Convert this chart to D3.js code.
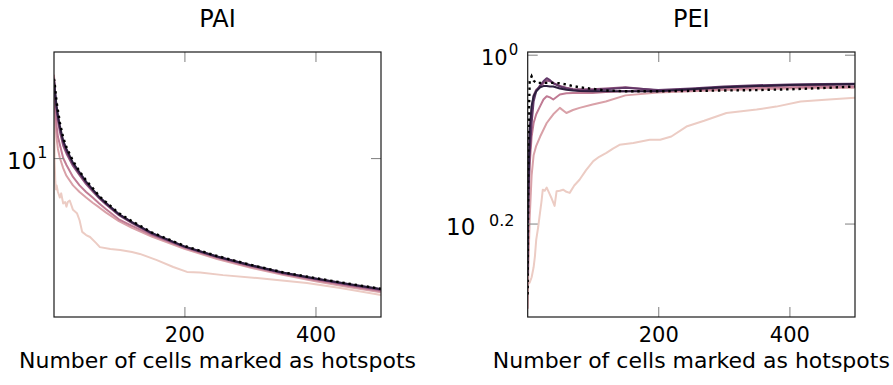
<!DOCTYPE html>
<html>
<head>
<meta charset="utf-8">
<script src="https://cdn.jsdelivr.net/npm/d3@7"></script>
<style>
  body { margin: 0; background: #fff; }
  svg { display: block; font-family: "DejaVu Sans", sans-serif; }
</style>
</head>
<body>
<svg id="chart" width="893" height="385"></svg>
<script>
// PAI panel: shared x grid for the darker curves
const paiN = [1, 2, 3, 5, 7, 10, 15, 20, 30, 40, 50, 60, 70, 80, 100, 120, 150, 200, 250, 300, 350, 400, 450, 500];
const paiP2 = [24, 17, 14.5, 12.3, 11, 10, 9, 8.3, 7.5, 7.0, 6.6, 6.25, 5.95, 5.65, 5.15, 4.8, 4.38, 3.85, 3.46, 3.16, 2.93, 2.74, 2.58, 2.44];
const paiP3 = [23.5, 19, 16.5, 14, 12.5, 11.5, 10, 9.3, 8.2, 7.5, 7.0, 6.6, 6.2, 5.85, 5.25, 4.9, 4.45, 3.9, 3.5, 3.2, 2.96, 2.77, 2.61, 2.47];
const paiP4 = [23, 20, 18.5, 16.3, 14.8, 13.2, 11.4, 10.5, 9.2, 8.35, 7.6, 7.05, 6.55, 6.15, 5.48, 5.05, 4.5, 3.92, 3.53, 3.23, 2.98, 2.8, 2.64, 2.5];
const paiP5 = [22.5, 21, 19.5, 17, 15.4, 13.7, 11.8, 10.8, 9.4, 8.5, 7.75, 7.15, 6.6, 6.2, 5.52, 5.08, 4.53, 3.94, 3.54, 3.24, 2.99, 2.81, 2.65, 2.51];
const paiP6 = [22.7, 21, 19.5, 17.2, 15.6, 14, 12, 11, 9.5, 8.6, 7.8, 7.2, 6.65, 6.25, 5.55, 5.1, 4.55, 3.95, 3.55, 3.25, 3.0, 2.82, 2.66, 2.52];
const paiRef = [23, 22, 20.5, 18, 16.5, 14.5, 12.4, 11.2, 9.7, 8.7, 7.9, 7.3, 6.7, 6.3, 5.6, 5.15, 4.58, 3.97, 3.57, 3.26, 3.01, 2.83, 2.67, 2.53];
// lightest PAI curve is noisier, so it has its own x values
const paiLightN = [1, 2, 3, 4, 5, 7, 10, 12, 15, 18, 20, 22, 25, 30, 36, 40, 44, 50, 56, 65, 71, 87, 102, 120, 132, 158, 183, 204, 224, 259, 311, 387, 438, 500];
const paiLight = [24, 9.5, 7.8, 7.2, 7.5, 7.0, 6.6, 6.9, 6.2, 6.3, 6.0, 6.3, 6.4, 5.8, 5.6, 5.2, 4.6, 4.45, 4.36, 4.1, 3.92, 3.84, 3.8, 3.72, 3.65, 3.42, 3.18, 3.02, 3.0, 2.92, 2.83, 2.69, 2.55, 2.37];

// PEI panel
const peiN = [1, 2, 4, 7, 10, 14, 20, 25, 30, 35, 40, 50, 60, 70, 80, 100, 120, 150, 200, 250, 300, 350, 400, 450, 500];
const peiP2 = [0.5, 0.56, 0.64, 0.72, 0.76, 0.78, 0.80, 0.815, 0.83, 0.84, 0.85, 0.865, 0.853, 0.86, 0.865, 0.873, 0.88, 0.895, 0.902, 0.905, 0.908, 0.91, 0.912, 0.913, 0.914];
const peiP3 = [0.55, 0.65, 0.74, 0.8, 0.83, 0.85, 0.869, 0.885, 0.893, 0.89, 0.885, 0.897, 0.9, 0.901, 0.901, 0.901, 0.903, 0.905, 0.905, 0.907, 0.912, 0.914, 0.915, 0.916, 0.916];
const peiP4 = [0.62, 0.72, 0.8, 0.86, 0.895, 0.909, 0.917, 0.925, 0.932, 0.93, 0.926, 0.918, 0.914, 0.911, 0.91, 0.91, 0.912, 0.915, 0.907, 0.91, 0.915, 0.918, 0.92, 0.921, 0.922];
const peiP5 = [0.6, 0.68, 0.76, 0.83, 0.88, 0.905, 0.92, 0.93, 0.938, 0.933, 0.925, 0.917, 0.912, 0.909, 0.907, 0.908, 0.91, 0.914, 0.908, 0.912, 0.917, 0.92, 0.922, 0.923, 0.924];
const peiP6 = [0.55, 0.7, 0.815, 0.87, 0.893, 0.905, 0.915, 0.918, 0.918, 0.917, 0.917, 0.912, 0.909, 0.907, 0.906, 0.905, 0.905, 0.905, 0.905, 0.91, 0.915, 0.918, 0.921, 0.922, 0.923];
const peiRef = [0.52, 0.8, 0.93, 0.943, 0.932, 0.926, 0.926, 0.926, 0.926, 0.926, 0.926, 0.925, 0.922, 0.918, 0.915, 0.911, 0.907, 0.905, 0.905, 0.906, 0.907, 0.908, 0.91, 0.913, 0.917];
const peiLightN = [1, 4, 7, 10, 12, 14, 17, 19, 22, 24, 27, 30, 34, 37, 42, 45, 50, 55, 60, 65, 72, 80, 90, 101, 110, 121, 131, 141, 162, 187, 203, 220, 243, 270, 304, 350, 380, 417, 460, 500];
const peiLight = [0.535, 0.537, 0.545, 0.56, 0.577, 0.604, 0.625, 0.643, 0.67, 0.692, 0.69, 0.696, 0.685, 0.677, 0.662, 0.689, 0.69, 0.692, 0.688, 0.686, 0.7, 0.711, 0.73, 0.748, 0.757, 0.765, 0.774, 0.782, 0.786, 0.793, 0.793, 0.8, 0.822, 0.835, 0.853, 0.861, 0.868, 0.88, 0.885, 0.889];

const xTicks = [200, 400];
const seriesColors = ['#ecccc4', '#d9a1a8', '#c07b94', '#93567f', '#633868', '#2d1e3e'];

const svg = d3.select('#chart');

function drawPanel(opt) {
    const x = d3.scaleLinear().domain([1, 500]).range([opt.left, opt.right]);
    const y = d3.scaleLog().domain(opt.yDomain).range([317, 52]);

    const id = 'clip-' + opt.name;
    svg.append('clipPath').attr('id', id)
        .append('rect')
        .attr('x', opt.left).attr('y', 52)
        .attr('width', opt.right - opt.left).attr('height', 265);

    const line = d3.line()
        .x(d => x(d[0]))
        .y(d => y(d[1]));

    const g = svg.append('g').attr('clip-path', `url(#${id})`);

    // solid curves, light to dark
    opt.series.forEach((s, i) => {
        g.append('path')
            .datum(d3.zip(s.n, s.v))
            .attr('d', line)
            .attr('fill', 'none')
            .attr('stroke', seriesColors[i])
            .attr('stroke-width', 2)
            .attr('stroke-linejoin', 'round');
    });

    // dotted reference
    g.append('path')
        .datum(d3.zip(opt.ref.n, opt.ref.v))
        .attr('d', line)
        .attr('fill', 'none')
        .attr('stroke', '#000')
        .attr('stroke-width', 2.4)
        .attr('stroke-dasharray', '2.4 3.8');

    // ticks (inward, pgfplots style)
    const bottom = svg.append('g')
        .attr('transform', `translate(0, 317)`)
        .call(d3.axisBottom(x).tickValues(xTicks).tickSize(-10).tickPadding(10).tickFormat(d3.format('d')));
    const top = svg.append('g')
        .attr('transform', `translate(0, 52)`)
        .call(d3.axisTop(x).tickValues(xTicks).tickSize(-10).tickFormat(''));
    const leftAx = svg.append('g')
        .attr('transform', `translate(${opt.left}, 0)`)
        .call(d3.axisLeft(y).tickValues(opt.yTicks).tickSize(-10).tickFormat(''));
    const rightAx = svg.append('g')
        .attr('transform', `translate(${opt.right}, 0)`)
        .call(d3.axisRight(y).tickValues(opt.yTicks).tickSize(-10).tickFormat(''));

    [bottom, top, leftAx, rightAx].forEach(a => {
        a.select('.domain').remove();
        a.selectAll('.tick line').attr('stroke', '#8a8a8a').attr('stroke-width', 1.1);
        a.selectAll('text').attr('font-family', '"DejaVu Sans", sans-serif')
            .attr('font-size', 21).attr('fill', '#000');
    });

    // frame
    svg.append('rect')
        .attr('x', opt.left).attr('y', 52)
        .attr('width', opt.right - opt.left).attr('height', 265)
        .attr('fill', 'none')
        .attr('stroke', '#1a1a1a')
        .attr('stroke-width', 1.2);

    const cx = (opt.left + opt.right) / 2;
    svg.append('text')
        .attr('x', cx).attr('y', 27)
        .attr('text-anchor', 'middle')
        .attr('font-size', 24)
        .text(opt.name);
    svg.append('text')
        .attr('x', cx).attr('y', 368)
        .attr('text-anchor', 'middle')
        .attr('font-size', 22)
        .attr('textLength', 397)
        .attr('lengthAdjust', 'spacingAndGlyphs')
        .text('Number of cells marked as hotspots');

    opt.yLabels(y);
}

drawPanel({
    name: 'PAI',
    left: 54, right: 381,
    yDomain: [1.88, 30.5],
    yTicks: [10],
    series: [
        { n: paiLightN, v: paiLight },
        { n: paiN, v: paiP2 },
        { n: paiN, v: paiP3 },
        { n: paiN, v: paiP4 },
        { n: paiN, v: paiP5 },
        { n: paiN, v: paiP6 }
    ],
    ref: { n: paiN, v: paiRef },
    yLabels: y => {
        const t = svg.append('text')
            .attr('x', 7).attr('y', y(10) + 11)
            .attr('font-size', 23);
        t.append('tspan').text('10');
        t.append('tspan').attr('dy', -11).attr('dx', 1).attr('font-size', 16).text('1');
    }
});

drawPanel({
    name: 'PEI',
    left: 527.7, right: 855,
    yDomain: [0.489, 1.0074],
    yTicks: [1, Math.pow(10, -0.2)],
    series: [
        { n: peiLightN, v: peiLight },
        { n: peiN, v: peiP2 },
        { n: peiN, v: peiP3 },
        { n: peiN, v: peiP4 },
        { n: peiN, v: peiP5 },
        { n: peiN, v: peiP6 }
    ],
    ref: { n: peiN, v: peiRef },
    yLabels: y => {
        const t = svg.append('text')
            .attr('x', 481).attr('y', y(1) + 10)
            .attr('font-size', 21);
        t.append('tspan').text('10');
        t.append('tspan').attr('dy', -10).attr('dx', 1).attr('font-size', 15).text('0');
        const y2 = y(Math.pow(10, -0.2));
        svg.append('text')
            .attr('x', 446).attr('y', y2 + 11)
            .attr('font-size', 23)
            .text('10');
        svg.append('text')
            .attr('x', 489).attr('y', y2 + 2)
            .attr('font-size', 16)
            .text('0.2');
    }
});
</script>
</body>
</html>
